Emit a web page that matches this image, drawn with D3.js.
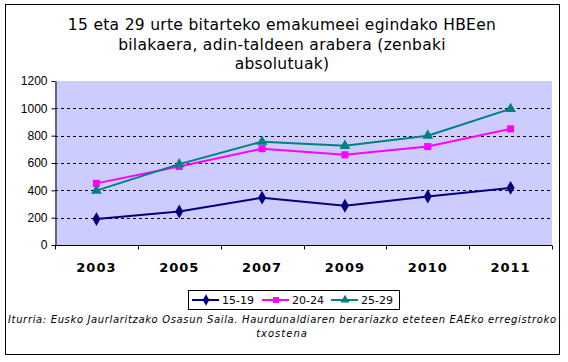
<!DOCTYPE html>
<html>
<head>
<meta charset="utf-8">
<script src="https://cdn.jsdelivr.net/npm/d3@7"></script>
<style>
  body { margin: 0; background: #fff; }
  svg { display: block; }
</style>
</head>
<body>
<div id="chart"></div>
<script>
// data
const years = ['2003', '2005', '2007', '2009', '2010', '2011']
const age1519 = [190, 245, 346, 287, 355, 418]
const age2024 = [451, 575, 705, 660, 720, 850]
const age2529 = [398, 592, 756, 726, 800, 996]
const seriesNames = ['15-19', '20-24', '25-29']
const yTicks = [0, 200, 400, 600, 800, 1000, 1200]
const titleLines = ['15 eta 29 urte bitarteko emakumeei egindako HBEen', 'bilakaera, adin-taldeen arabera (zenbaki', 'absolutuak)']
const sourceLines = ['Iturria: Eusko Jaurlaritzako Osasun Saila.  Haurdunaldiaren berariazko eteteen EAEko erregistroko', 'txostena']

const width = 568
const height = 362
const plot = { left: 55, right: 552, top: 81, bottom: 245 }

const colors = ['#000080', '#ff00ff', '#008080']
const symbols = [d3.symbolDiamond, d3.symbolSquare, d3.symbolTriangle]
const symbolSizes = [55, 50, 50]

const series = seriesNames.map((name, i) => ({
  name,
  values: [age1519, age2024, age2529][i],
  color: colors[i],
  symbol: symbols[i],
  size: symbolSizes[i]
}))

const svg = d3.select('#chart').append('svg')
  .attr('width', width)
  .attr('height', height)

// outer frame
svg.append('rect')
  .attr('x', 5.5).attr('y', 4.5)
  .attr('width', 554).attr('height', 350)
  .attr('fill', '#fff')
  .attr('stroke', '#000')
  .attr('stroke-width', 1)

// title
svg.append('g').selectAll('text')
  .data(titleLines)
  .join('text')
  .attr('x', 282)
  .attr('y', (d, i) => 30 + i * 19.5)
  .attr('text-anchor', 'middle')
  .style('font-family', 'Verdana, "DejaVu Sans", sans-serif')
  .style('font-size', '15.5px')
  .style('letter-spacing', '0.3px')
  .text(d => d)

const xScale = d3.scaleBand()
  .domain(years)
  .range([plot.left, plot.right])

const yScale = d3.scaleLinear()
  .domain([0, 1200])
  .range([plot.bottom, plot.top])

// plot background
svg.append('rect')
  .attr('x', plot.left).attr('y', plot.top)
  .attr('width', plot.right - plot.left)
  .attr('height', plot.bottom - plot.top)
  .attr('fill', '#ccccff')

// dashed grid lines
svg.append('g').selectAll('line')
  .data(yTicks.filter(t => t > 0 && t < 1200))
  .join('line')
  .attr('x1', plot.left).attr('x2', plot.right)
  .attr('y1', d => Math.round(yScale(d)) + 0.5)
  .attr('y2', d => Math.round(yScale(d)) + 0.5)
  .attr('stroke', '#000')
  .attr('stroke-dasharray', '3,3')

// y axis
const yAxis = svg.append('g')
  .attr('transform', `translate(${plot.left + 0.5},0)`)
  .call(d3.axisLeft(yScale).tickValues(yTicks).tickFormat(d3.format('d')).tickSize(4).tickPadding(4).tickSizeOuter(0))
yAxis.select('.domain').attr('stroke', '#000')
yAxis.selectAll('text')
  .style('font-family', 'Arial, "Liberation Sans", sans-serif')
  .style('font-size', '12px')
  .attr('fill', '#000')

// x axis: ticks between categories
const xAxisG = svg.append('g')
  .attr('transform', `translate(0,${plot.bottom + 0.5})`)
xAxisG.append('line')
  .attr('x1', plot.left).attr('x2', plot.right)
  .attr('stroke', '#000')
const boundaries = years.map(y => xScale(y)).concat([plot.right])
xAxisG.selectAll('.tick-mark')
  .data(boundaries)
  .join('line')
  .attr('class', 'tick-mark')
  .attr('x1', d => Math.round(d) + 0.5).attr('x2', d => Math.round(d) + 0.5)
  .attr('y1', 0).attr('y2', 4)
  .attr('stroke', '#000')
xAxisG.selectAll('.tick-label')
  .data(years)
  .join('text')
  .attr('class', 'tick-label')
  .attr('x', d => xScale(d) + xScale.bandwidth() / 2)
  .attr('y', 26)
  .attr('text-anchor', 'middle')
  .style('font-family', 'Verdana, "DejaVu Sans", sans-serif')
  .style('font-size', '13px')
  .style('font-weight', 'bold')
  .style('letter-spacing', '1px')
  .text(d => d)

// series lines and markers
const line = d3.line()
  .x((d, i) => xScale(years[i]) + xScale.bandwidth() / 2)
  .y(d => yScale(d))

const seriesG = svg.append('g').selectAll('g')
  .data(series)
  .join('g')

seriesG.append('path')
  .attr('d', d => line(d.values))
  .attr('fill', 'none')
  .attr('stroke', d => d.color)
  .attr('stroke-width', 2)

seriesG.each(function (s) {
  d3.select(this).selectAll('path.marker')
    .data(s.values)
    .join('path')
    .attr('class', 'marker')
    .attr('transform', (d, i) => `translate(${xScale(years[i]) + xScale.bandwidth() / 2},${yScale(d)})`)
    .attr('d', d3.symbol().type(s.symbol).size(s.size))
    .attr('fill', s.color)
})

// legend
const legend = svg.append('g')
legend.append('rect')
  .attr('x', 188.5).attr('y', 290.5)
  .attr('width', 211).attr('height', 19)
  .attr('fill', '#fff')
  .attr('stroke', '#000')

const legendX = [192, 262, 331]
const legendItems = legend.selectAll('g')
  .data(series)
  .join('g')
  .attr('transform', (d, i) => `translate(${legendX[i]},300)`)
legendItems.append('line')
  .attr('x1', 0).attr('x2', 27)
  .attr('stroke', d => d.color)
  .attr('stroke-width', 2)
legendItems.append('path')
  .attr('transform', 'translate(14,0)')
  .attr('d', d => d3.symbol().type(d.symbol).size(d.size * 0.7)())
  .attr('fill', d => d.color)
legendItems.append('text')
  .attr('x', 30)
  .attr('y', 4)
  .style('font-family', 'Verdana, "DejaVu Sans", sans-serif')
  .style('font-size', '11px')
  .text(d => d.name)

// source note
svg.append('g').selectAll('text')
  .data(sourceLines)
  .join('text')
  .attr('x', 282)
  .attr('y', (d, i) => 323 + i * 14)
  .attr('text-anchor', 'middle')
  .attr('textLength', (d, i) => i === 0 ? 548 : null)
  .attr('lengthAdjust', 'spacing')
  .style('font-family', 'Verdana, "DejaVu Sans", sans-serif')
  .style('font-size', '10px')
  .style('font-style', 'italic')
  .style('letter-spacing', (d, i) => i === 0 ? null : '1px')
  .text(d => d)
</script>
</body>
</html>
